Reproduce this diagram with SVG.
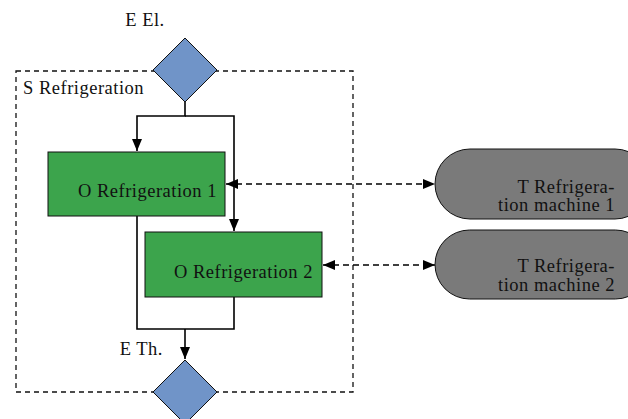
<svg xmlns="http://www.w3.org/2000/svg" width="628" height="419" viewBox="0 0 628 419">
<style>
text{font-family:"Liberation Serif","Times New Roman",serif;font-size:18.5px;letter-spacing:0.5px;fill:#111}
.dia{fill:#7094c8;stroke:#111;stroke-width:1}
.box{fill:#3ca44c;stroke:#111;stroke-width:1}
.term{fill:#7a7a7a;stroke:#111;stroke-width:1}
.sys{fill:none;stroke:#111;stroke-width:1.3;stroke-dasharray:5,4}
.flow{fill:none;stroke:#000;stroke-width:1.6}
.dash{fill:none;stroke:#000;stroke-width:1.5;stroke-dasharray:6,4}
</style>
<defs>
<marker id="ah" viewBox="0 0 12 10" refX="12" refY="5" markerWidth="12" markerHeight="10" markerUnits="userSpaceOnUse" orient="auto-start-reverse">
<path d="M0,0 L12,5 L0,10 Z" fill="#000"/>
</marker>
</defs>
<g id="system">
<rect class="sys" x="16" y="71" width="337" height="321"/>
<text x="23" y="94">S Refrigeration</text>
</g>
<g id="connectors">
<polyline class="flow" points="185,102 185,116 137,116 137,151" marker-end="url(#ah)"/>
<polyline class="flow" points="185,116 234,116 234,231" marker-end="url(#ah)"/>
<polyline class="flow" points="137,216 137,329 234,329 234,297"/>
<polyline class="flow" points="185,329 185,359" marker-end="url(#ah)"/>
<line class="dash" x1="226" y1="184" x2="435" y2="184" marker-start="url(#ah)" marker-end="url(#ah)"/>
<line class="dash" x1="323" y1="265" x2="435" y2="265" marker-start="url(#ah)" marker-end="url(#ah)"/>
</g>
<g id="el-in">
<polygon class="dia" points="185,38 217,70 185,102 153,70"/>
<text x="145" y="26" text-anchor="middle">E El.</text>
</g>
<g id="th-out">
<polygon class="dia" points="185,360 217,392 185,424 153,392"/>
<text x="163" y="355" text-anchor="end">E Th.</text>
</g>
<g id="op1">
<rect class="box" x="48" y="152" width="177" height="64"/>
<text x="217" y="197" text-anchor="end">O Refrigeration 1</text>
</g>
<g id="op2">
<rect class="box" x="145" y="232" width="177" height="65"/>
<text x="313" y="278" text-anchor="end">O Refrigeration 2</text>
</g>
<g id="term1">
<rect class="term" x="435" y="149" width="215" height="70" rx="35" ry="35"/>
<text x="615" y="193" text-anchor="end">T Refrigera-</text>
<text x="615" y="211" text-anchor="end">tion machine 1</text>
</g>
<g id="term2">
<rect class="term" x="435" y="230" width="215" height="69" rx="34.5" ry="34.5"/>
<text x="615" y="272" text-anchor="end">T Refrigera-</text>
<text x="615" y="291" text-anchor="end">tion machine 2</text>
</g>
</svg>
